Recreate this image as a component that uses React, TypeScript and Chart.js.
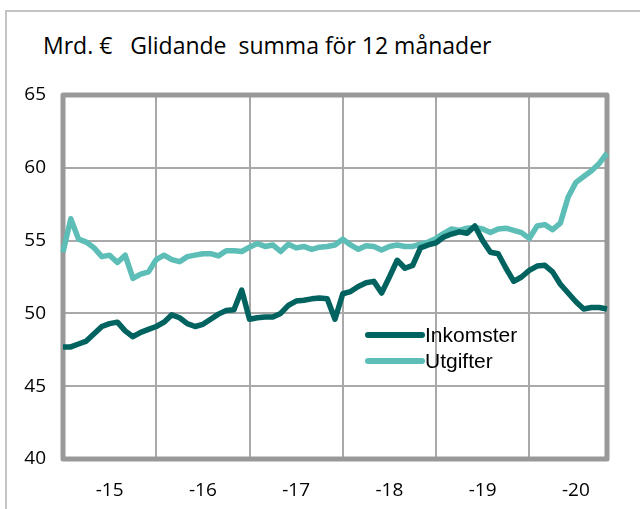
import React, { useEffect, useRef } from "react";
import { Chart, registerables } from "chart.js";

Chart.register(...registerables);

const yearLabels = ["-15", "-16", "-17", "-18", "-19", "-20"];

const inkomster = [
  47.7, 47.7, 47.9, 48.1, 48.6, 49.1, 49.3, 49.4, 48.8, 48.4, 48.7, 48.9,
  49.1, 49.4, 49.9, 49.7, 49.3, 49.1, 49.25, 49.6, 49.95, 50.2, 50.25, 51.6,
  49.6, 49.7, 49.75, 49.75, 50.0, 50.55, 50.85, 50.9, 51.0, 51.05, 51.0, 49.6,
  51.35, 51.5, 51.85, 52.1, 52.2, 51.4, 52.5, 53.65, 53.1, 53.3, 54.5, 54.7,
  54.85, 55.25, 55.45, 55.6, 55.5, 56.0, 55.0, 54.2, 54.1, 53.1, 52.2, 52.5,
  52.95, 53.25, 53.3, 52.85, 52.0, 51.4, 50.8, 50.3, 50.4, 50.4, 50.3,
];

const utgifter = [
  54.2, 56.5, 55.1, 54.9, 54.5, 53.9, 54.0, 53.5, 54.0, 52.4, 52.7, 52.85,
  53.7, 54.0, 53.7, 53.55, 53.9, 54.0, 54.1, 54.1, 53.95, 54.3, 54.3, 54.25,
  54.55, 54.8, 54.6, 54.7, 54.25, 54.75, 54.5, 54.6, 54.4, 54.55, 54.6, 54.7,
  55.1, 54.7, 54.4, 54.65, 54.6, 54.35, 54.6, 54.7, 54.6, 54.6, 54.75, 54.9,
  55.15, 55.5, 55.8, 55.7, 55.85, 55.9, 55.8, 55.55, 55.8, 55.85, 55.7, 55.55,
  55.15, 56.0, 56.1, 55.75, 56.2, 58.0, 59.0, 59.4, 59.8, 60.3, 61.0,
];

const seriesNames = ["Inkomster", "Utgifter"];
const yTicks = [40, 45, 50, 55, 60, 65];
const titleText = "Mrd. €   Glidande  summa för 12 månader";

const DARK = "rgb(0,99,96)";
const LIGHT = "rgb(92,190,182)";
const GRID = "#a9a9a9";
const FRAME = "#999999";

// month labels: 12 per year label, truncated to the data length
const monthLabels: string[] = [];
yearLabels.forEach((y) => {
  for (let m = 1; m <= 12; m++) monthLabels.push(`${y}:${m}`);
});
const labels = monthLabels.slice(0, inkomster.length);

const framePlugin = {
  id: "frame",
  beforeDatasetsDraw(chart: any) {
    const { ctx, chartArea: a } = chart;
    ctx.save();
    ctx.strokeStyle = FRAME;
    ctx.lineWidth = 5;
    ctx.lineJoin = "round";
    ctx.strokeRect(a.left, a.top, a.right - a.left, a.bottom - a.top);
    ctx.restore();
  },
};

const legendPlugin = {
  id: "innerLegend",
  afterDraw(chart: any) {
    const { ctx } = chart;
    const x0 = 368;
    const x1 = 422;
    const ys = [335, 361];
    ctx.save();
    chart.data.datasets.forEach((ds: any, i: number) => {
      ctx.strokeStyle = ds.borderColor;
      ctx.lineWidth = 6;
      ctx.lineCap = "round";
      ctx.beginPath();
      ctx.moveTo(x0, ys[i]);
      ctx.lineTo(x1, ys[i]);
      ctx.stroke();
      ctx.fillStyle = "#000";
      ctx.font = '21px "Liberation Sans", Arial, sans-serif';
      ctx.textBaseline = "middle";
      ctx.textAlign = "left";
      ctx.fillText(ds.label, x1 + 3, ys[i] + 1);
    });
    ctx.restore();
  },
};

export default function App() {
  const ref = useRef<HTMLCanvasElement | null>(null);

  useEffect(() => {
    document.body.style.margin = "0";
    const chart = new Chart(ref.current as HTMLCanvasElement, {
      type: "line",
      data: {
        labels,
        datasets: [
          {
            label: seriesNames[0],
            data: inkomster,
            borderColor: DARK,
            backgroundColor: DARK,
            borderWidth: 5.5,
            pointRadius: 0,
            tension: 0,
            borderJoinStyle: "round",
          },
          {
            label: seriesNames[1],
            data: utgifter,
            borderColor: LIGHT,
            backgroundColor: LIGHT,
            borderWidth: 5.5,
            pointRadius: 0,
            tension: 0,
            borderJoinStyle: "round",
          },
        ],
      },
      options: {
        animation: false,
        responsive: true,
        maintainAspectRatio: false,
        layout: { padding: { left: 0, top: 95, right: 33, bottom: 0 } },
        plugins: {
          legend: { display: false },
          tooltip: { enabled: false },
          title: { display: false },
        },
        scales: {
          x: {
            type: "category",
            offset: false,
            afterFit: (s: any) => {
              s.height = 50;
            },
            border: { display: false },
            grid: {
              drawTicks: false,
              lineWidth: 2,
              color: (c: any) =>
                c.index % 12 === 0 && c.index > 0 ? GRID : "rgba(0,0,0,0)",
            },
            ticks: {
              autoSkip: false,
              maxRotation: 0,
              minRotation: 0,
              padding: 20,
              color: "#000",
              font: { family: '"Open Sans", sans-serif', size: 19 },
              callback: (_v: any, i: number) =>
                i % 12 === 6 ? yearLabels[Math.floor(i / 12)] : "",
            },
          },
          y: {
            min: yTicks[0],
            max: yTicks[yTicks.length - 1],
            afterFit: (s: any) => {
              s.width = 63;
            },
            afterBuildTicks: (s: any) => {
              s.ticks = yTicks.map((v) => ({ value: v }));
            },
            border: { display: false },
            grid: {
              drawTicks: false,
              lineWidth: 2,
              color: GRID,
            },
            ticks: {
              padding: 17,
              color: "#000",
              font: { family: '"Open Sans", sans-serif', size: 19 },
            },
          },
        },
      },
      plugins: [framePlugin, legendPlugin],
    });
    return () => chart.destroy();
  }, []);

  return (
    <div
      style={{
        position: "absolute",
        left: 0,
        top: 0,
        width: 640,
        height: 509,
        overflow: "hidden",
        background: "#fff",
      }}
    >
      <div
        style={{
          position: "absolute",
          left: 5,
          top: 10,
          width: 700,
          height: 600,
          borderLeft: "2px solid #c4c4c4",
          borderTop: "2px solid #c4c4c4",
        }}
      />
      <div
        style={{
          position: "absolute",
          left: 43,
          top: 34,
          fontFamily: '"Open Sans", sans-serif',
          fontSize: 23,
          lineHeight: "23px",
          whiteSpace: "pre",
          color: "#000",
        }}
      >
        {titleText}
      </div>
      <div style={{ position: "absolute", left: 0, top: 0, width: 640, height: 509 }}>
        <canvas ref={ref} />
      </div>
    </div>
  );
}
